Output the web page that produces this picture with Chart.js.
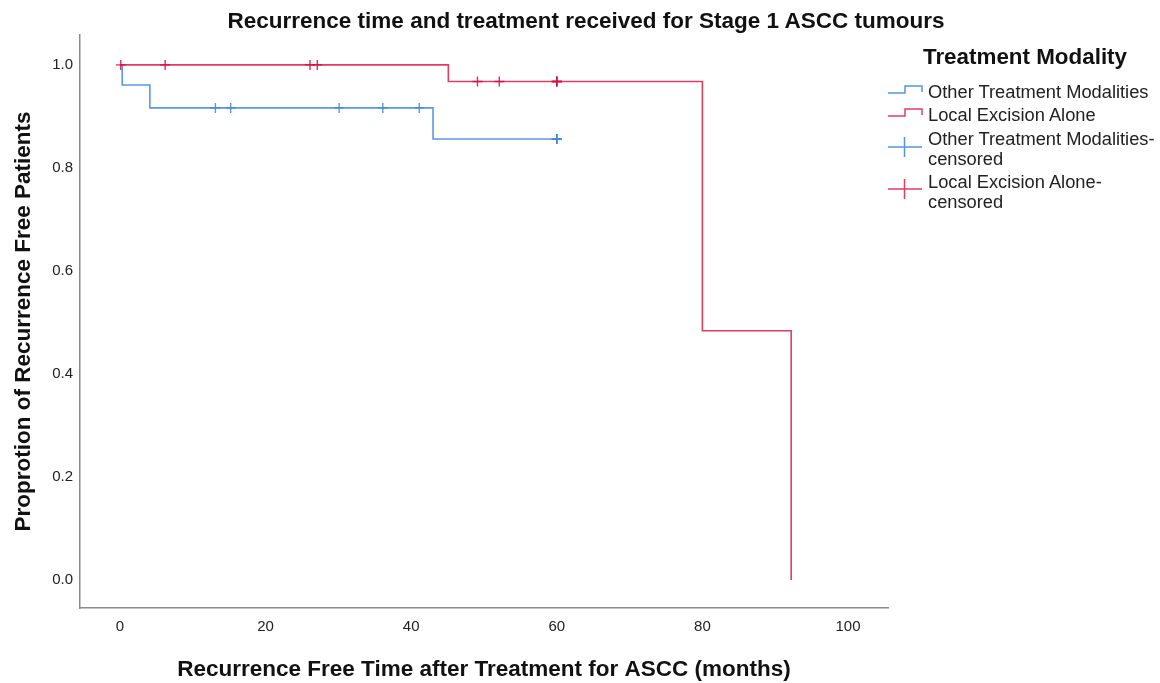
<!DOCTYPE html>
<html>
<head>
<meta charset="utf-8">
<script src="https://cdn.jsdelivr.net/npm/chart.js@4.4.1/dist/chart.umd.min.js"></script>
<style>
  html, body { margin: 0; padding: 0; background: #fff; }
  #wrap { position: relative; width: 1160px; height: 683px; font-family: "Liberation Sans", Arial, sans-serif; }
  #c { position: absolute; left: 0; top: 0; }
  #title { position: absolute; left: 0; top: 8px; width: 1172px; text-align: center; font-weight: bold; font-size: 22.5px; color: #111; }
  #legTitle { position: absolute; left: 900px; width: 250px; top: 44px; text-align: center; font-weight: bold; font-size: 22.4px; color: #111; }
  .li { position: absolute; left: 928px; font-size: 18.3px; line-height: 20px; color: #222; white-space: nowrap; }
  #legSvg { position: absolute; left: 0; top: 0; }
</style>
</head>
<body>
<div id="wrap">
  <canvas id="c" width="1160" height="683"></canvas>
  <div id="title">Recurrence time and treatment received for Stage 1 ASCC tumours</div>
  <div id="legTitle">Treatment Modality</div>
  <div class="li" style="top:82px">Other Treatment Modalities</div>
  <div class="li" style="top:105px">Local Excision Alone</div>
  <div class="li" style="top:129px">Other Treatment Modalities-<br>censored</div>
  <div class="li" style="top:172px">Local Excision Alone-<br>censored</div>
  <svg id="legSvg" width="1160" height="683" style="pointer-events:none">
    <polyline points="888,93 905,93 905,86 922,86 922,92" fill="none" stroke="#5595e0" stroke-width="1.5"/>
    <polyline points="888,116 905,116 905,109 922,109 922,115" fill="none" stroke="#e23c64" stroke-width="1.5"/>
    <line x1="888" y1="147" x2="922" y2="147" stroke="#5595e0" stroke-width="1.5"/>
    <line x1="904.5" y1="137" x2="904.5" y2="157" stroke="#5595e0" stroke-width="1.5"/>
    <line x1="888" y1="189" x2="922" y2="189" stroke="#e23c64" stroke-width="1.5"/>
    <line x1="904.5" y1="179" x2="904.5" y2="199" stroke="#e23c64" stroke-width="1.5"/>
  </svg>
</div>
<script>
// ---- data ----
const xTickValues = [0, 20, 40, 60, 80, 100];
const yTickValues = [0.0, 0.2, 0.4, 0.6, 0.8, 1.0];

// Other Treatment Modalities: survival step curve
const otherTimes = [0, 0.3, 4.1, 43.0, 60.0];
const otherSurv  = [1.0, 0.961, 0.9165, 0.856, 0.856];
// Other Treatment Modalities: censored
const otherCensTimes = [13.1, 15.2, 30.1, 36.1, 41.1, 60.0, 60.0, 60.0];
const otherCensSurv  = [0.9165, 0.9165, 0.9165, 0.9165, 0.9165, 0.856, 0.856, 0.856];

// Local Excision Alone: survival step curve
const localTimes = [0, 45.1, 80.0, 92.2];
const localSurv  = [1.0, 0.9676, 0.4838, 0.0];
// Local Excision Alone: censored
const localCensTimes = [0.1, 6.2, 26.1, 27.1, 49.1, 52.1, 60.0, 60.0, 60.0];
const localCensSurv  = [1.0, 1.0, 1.0, 1.0, 0.9676, 0.9676, 0.9676, 0.9676, 0.9676];

const pts = (xs, ys) => xs.map((x, i) => ({ x: x, y: ys[i] }));

const BLUE = '#5a99e2', RED = '#e23c64';
const BLUE_M = 'rgba(64,134,222,0.85)', RED_M = 'rgba(212,10,60,0.85)';

new Chart(document.getElementById('c'), {
  type: 'line',
  data: {
    datasets: [
      { label: 'Local Excision Alone-censored', data: pts(localCensTimes, localCensSurv), showLine: false,
        pointStyle: 'cross', pointRadius: 5, pointBorderWidth: 1.4, pointBorderColor: RED_M, borderColor: RED_M },
      { label: 'Other Treatment Modalities-censored', data: pts(otherCensTimes, otherCensSurv), showLine: false,
        pointStyle: 'cross', pointRadius: 5, pointBorderWidth: 1.4, pointBorderColor: BLUE_M, borderColor: BLUE_M },
      { label: 'Local Excision Alone', data: pts(localTimes, localSurv), stepped: 'before',
        borderColor: RED, borderWidth: 1.6, pointRadius: 0, fill: false },
      { label: 'Other Treatment Modalities', data: pts(otherTimes, otherSurv), stepped: 'before',
        borderColor: BLUE, borderWidth: 1.6, pointRadius: 0, fill: false }
    ]
  },
  options: {
    responsive: false,
    animation: false,
    events: [],
    layout: { padding: { top: 35, right: 272, left: 0, bottom: 0 } },
    plugins: { legend: { display: false }, tooltip: { enabled: false }, title: { display: false } },
    scales: {
      x: {
        type: 'linear', min: -5.5, max: 105.5,
        afterFit: s => { s.height = 75; },
        afterBuildTicks: s => { s.ticks = xTickValues.map(v => ({ value: v })); },
        grid: { display: false, drawTicks: false },
        border: { display: true, color: '#8a8a8a', width: 1.5 },
        ticks: { padding: 10, color: '#222', font: { family: 'Liberation Sans', size: 15 }, callback: v => String(v) },
        title: { display: true, text: 'Recurrence Free Time after Treatment for ASCC (months)', color: '#111',
                 font: { family: 'Liberation Sans', size: 22.5, weight: 'bold' }, padding: { top: 0, bottom: 0 } }
      },
      y: {
        type: 'linear', min: -0.0544, max: 1.058,
        afterFit: s => { s.width = 80; },
        afterBuildTicks: s => { s.ticks = yTickValues.map(v => ({ value: v })); },
        grid: { display: false, drawTicks: false },
        border: { display: true, color: '#8a8a8a', width: 1.5 },
        ticks: { padding: 7, color: '#222', font: { family: 'Liberation Sans', size: 15 }, callback: v => Number(v).toFixed(1) },
        title: { display: true, text: 'Proprotion of Recurrence Free Patients', color: '#111',
                 font: { family: 'Liberation Sans', size: 22.5, weight: 'bold' }, padding: { top: 10, bottom: 0 } }
      }
    }
  }
});
</script>
</body>
</html>
